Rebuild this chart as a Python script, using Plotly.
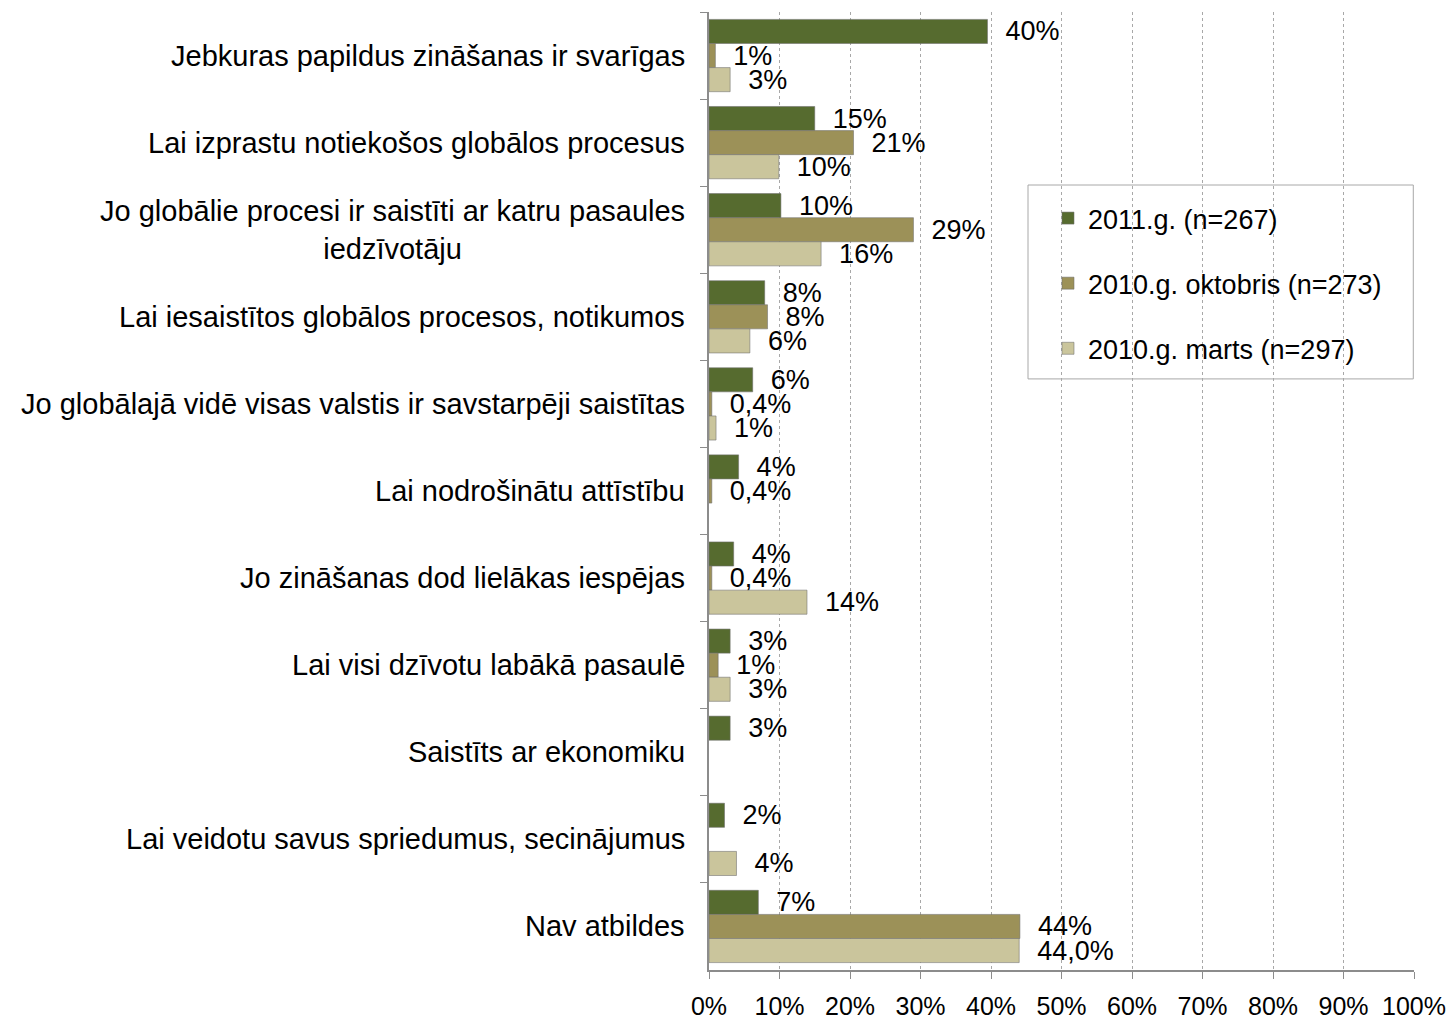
import plotly.graph_objects as go

# categories, top to bottom
categories = [
    "Jebkuras papildus zināšanas ir svarīgas",
    "Lai izprastu notiekošos globālos procesus",
    "Jo globālie procesi ir saistīti ar katru pasaules<br>iedzīvotāju",
    "Lai iesaistītos globālos procesos, notikumos",
    "Jo globālajā vidē visas valstis ir savstarpēji saistītas",
    "Lai nodrošinātu attīstību",
    "Jo zināšanas dod lielākas iespējas",
    "Lai visi dzīvotu labākā pasaulē",
    "Saistīts ar ekonomiku",
    "Lai veidotu savus spriedumus, secinājumus",
    "Nav atbildes",
]

series_names = ["2011.g. (n=267)", "2010.g. oktobris (n=273)", "2010.g. marts (n=297)"]

values_2011 = [39.5, 15.0, 10.2, 7.9, 6.2, 4.2, 3.5, 3.0, 3.0, 2.2, 7.0]
values_2010_okt = [0.9, 20.5, 29.0, 8.3, 0.4, 0.4, 0.4, 1.3, None, None, 44.1]
values_2010_marts = [3.0, 9.9, 15.9, 5.8, 1.0, None, 13.9, 3.0, None, 3.9, 44.0]

labels_2011 = ["40%", "15%", "10%", "8%", "6%", "4%", "4%", "3%", "3%", "2%", "7%"]
labels_2010_okt = ["1%", "21%", "29%", "8%", "0,4%", "0,4%", "0,4%", "1%", "", "", "44%"]
labels_2010_marts = ["3%", "10%", "16%", "6%", "1%", "", "14%", "3%", "", "4%", "44,0%"]

colors = ["#566B2F", "#9C9158", "#CAC59C"]

x_ticks = list(range(0, 101, 10))
x_tick_labels = [f"{t}%" for t in x_ticks]

FONT = "Liberation Sans, Arial, sans-serif"

fig = go.Figure()

all_values = [values_2011, values_2010_okt, values_2010_marts]
all_labels = [labels_2011, labels_2010_okt, labels_2010_marts]

for i, name in enumerate(series_names):
    fig.add_trace(
        go.Bar(
            y=categories,
            x=all_values[i],
            name=name,
            orientation="h",
            legendgroup=f"g{i}",
            marker=dict(color=colors[i], line=dict(color="rgba(110,110,110,0.55)", width=1)),
            text=["\u00a0\u00a0" + t if t else "" for t in all_labels[i]],
            textposition="outside",
            textfont=dict(family=FONT, size=27, color="black"),
            constraintext="none",
            cliponaxis=False,
            hoverinfo="x+name",
        )
    )

# category labels as annotations so the two-line label is centred
for cat in categories:
    fig.add_annotation(
        x=0, xref="paper", y=cat, yref="y",
        text=cat, showarrow=False,
        xanchor="right", xshift=-22, align="center",
        font=dict(family=FONT, size=29, color="black"),
    )

# legend frame
fig.add_shape(
    type="rect", xref="paper", yref="paper",
    x0=0.4525, x1=0.999, y0=0.617, y1=0.8194,
    line=dict(color="#a8a8a8", width=1),
    fillcolor="white", layer="below",
)

fig.update_layout(
    width=1450,
    height=1021,
    margin=dict(l=709, r=36, t=12, b=51),
    paper_bgcolor="white",
    plot_bgcolor="white",
    barmode="group",
    bargap=0.17,
    bargroupgap=0,
    font=dict(family=FONT, size=25, color="black"),
    legend=dict(
        x=0.4525, y=0.81, xanchor="left", yanchor="top",
        bgcolor="rgba(0,0,0,0)",
        borderwidth=0,
        font=dict(family=FONT, size=27, color="black"),
        tracegroupgap=27,
        indentation=20,
    ),
    showlegend=True,
)

fig.update_xaxes(
    range=[0, 100],
    tickvals=x_ticks,
    ticktext=x_tick_labels,
    showgrid=True,
    gridcolor="#a8a8a8",
    griddash="dot",
    gridwidth=1,
    zeroline=False,
    showline=True,
    linecolor="#8c8c8c",
    linewidth=1.5,
    ticks="outside",
    ticklen=7,
    tickcolor="#8c8c8c",
    tickfont=dict(family=FONT, size=25, color="black"),
    ticklabelstandoff=6,
    layer="below traces",
    automargin=False,
)

fig.update_yaxes(
    autorange="reversed",
    showticklabels=False,
    showgrid=False,
    showline=True,
    linecolor="#8c8c8c",
    linewidth=1.5,
    ticks="outside",
    tickson="boundaries",
    ticklen=7,
    tickcolor="#8c8c8c",
    automargin=False,
)

fig.write_html(
    "out.html",
    config={"displayModeBar": False},
    post_script="document.body.style.margin='0';",
)
